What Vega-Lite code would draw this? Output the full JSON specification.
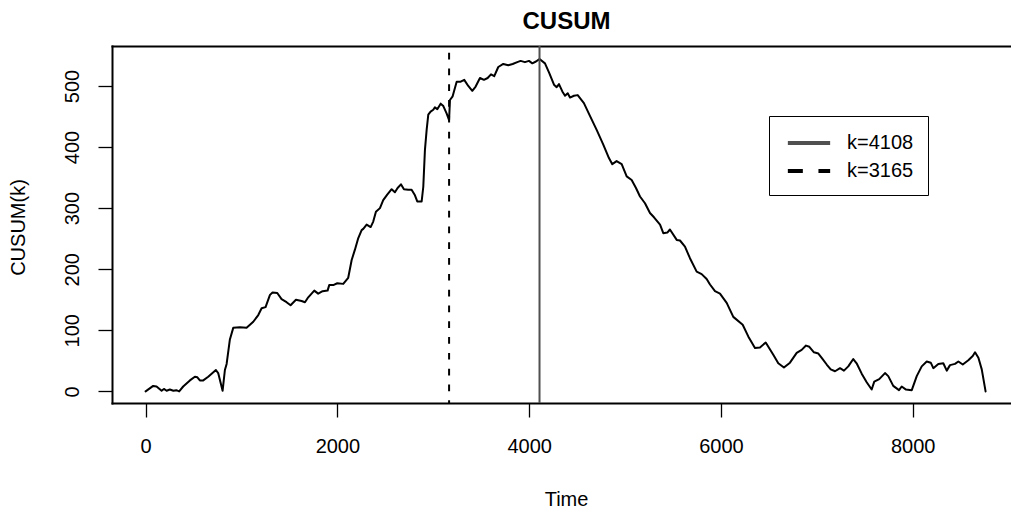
{
  "$schema": "https://vega.github.io/schema/vega-lite/v6.json",
  "width": 899,
  "height": 357,
  "autosize": {"type": "none"},
  "padding": {"left": 112, "top": 46, "right": 0, "bottom": 106},
  "background": "white",
  "title": {"text": "CUSUM", "fontSize": 24, "fontWeight": "bold", "font": "Liberation Sans", "color": "black", "anchor": "middle", "baseline": "alphabetic", "offset": -8, "dx": 5},
  "resolve": {"axis": {"x": "independent"}},
  "layer": [
    {
      "data": {"values": [
        {"t":0,"v":0},{"t":79,"v":9},{"t":114,"v":8},{"t":167,"v":1},{"t":191,"v":4},{"t":219,"v":1},{"t":253,"v":3},{"t":290,"v":1},{"t":320,"v":2},{"t":350,"v":0},
        {"t":392,"v":8},{"t":462,"v":18},{"t":514,"v":24},{"t":540,"v":23},{"t":566,"v":18},{"t":601,"v":18},{"t":653,"v":24},{"t":733,"v":35},{"t":757,"v":30},{"t":803,"v":1},
        {"t":827,"v":35},{"t":845,"v":45},{"t":879,"v":85},{"t":914,"v":104},{"t":984,"v":105},{"t":1053,"v":104},{"t":1123,"v":114},{"t":1175,"v":125},{"t":1210,"v":136},{"t":1251,"v":138},
        {"t":1297,"v":158},{"t":1324,"v":162},{"t":1373,"v":161},{"t":1418,"v":151},{"t":1470,"v":146},{"t":1512,"v":141},{"t":1568,"v":150},{"t":1627,"v":148},{"t":1662,"v":146},{"t":1696,"v":154},
        {"t":1759,"v":165},{"t":1800,"v":160},{"t":1846,"v":164},{"t":1898,"v":165},{"t":1915,"v":174},{"t":1957,"v":174},{"t":1999,"v":177},{"t":2061,"v":176},{"t":2113,"v":186},{"t":2149,"v":215},
        {"t":2183,"v":232},{"t":2218,"v":251},{"t":2253,"v":264},{"t":2270,"v":266},{"t":2305,"v":273},{"t":2347,"v":269},{"t":2374,"v":278},{"t":2402,"v":294},{"t":2444,"v":300},{"t":2478,"v":313},
        {"t":2520,"v":322},{"t":2566,"v":331},{"t":2600,"v":326},{"t":2628,"v":333},{"t":2663,"v":339},{"t":2694,"v":331},{"t":2739,"v":330},{"t":2774,"v":330},{"t":2809,"v":321},{"t":2833,"v":311},
        {"t":2879,"v":311},{"t":2896,"v":335},{"t":2913,"v":395},{"t":2931,"v":428},{"t":2948,"v":453},{"t":2972,"v":458},{"t":3000,"v":461},{"t":3017,"v":465},{"t":3042,"v":462},{"t":3077,"v":471},
        {"t":3105,"v":467},{"t":3139,"v":455},{"t":3165,"v":444},{"t":3174,"v":477},{"t":3202,"v":483},{"t":3244,"v":507},{"t":3286,"v":507},{"t":3323,"v":510},{"t":3365,"v":500},{"t":3407,"v":492},
        {"t":3442,"v":499},{"t":3487,"v":513},{"t":3529,"v":510},{"t":3567,"v":513},{"t":3602,"v":519},{"t":3636,"v":516},{"t":3678,"v":531},{"t":3730,"v":536},{"t":3782,"v":534},{"t":3828,"v":536},
        {"t":3876,"v":539},{"t":3911,"v":541},{"t":3956,"v":539},{"t":3998,"v":541},{"t":4033,"v":537},{"t":4071,"v":540},{"t":4108,"v":544},{"t":4165,"v":537},{"t":4210,"v":521},{"t":4259,"v":502},
        {"t":4287,"v":498},{"t":4311,"v":503},{"t":4346,"v":491},{"t":4374,"v":484},{"t":4402,"v":488},{"t":4426,"v":481},{"t":4467,"v":484},{"t":4506,"v":485},{"t":4571,"v":472},{"t":4634,"v":451},
        {"t":4704,"v":428},{"t":4773,"v":404},{"t":4832,"v":382},{"t":4867,"v":372},{"t":4912,"v":377},{"t":4965,"v":372},{"t":5017,"v":352},{"t":5069,"v":346},{"t":5114,"v":333},{"t":5156,"v":319},
        {"t":5208,"v":308},{"t":5260,"v":292},{"t":5302,"v":285},{"t":5365,"v":273},{"t":5399,"v":259},{"t":5441,"v":260},{"t":5468,"v":265},{"t":5539,"v":248},{"t":5573,"v":247},{"t":5625,"v":237},
        {"t":5677,"v":218},{"t":5747,"v":196},{"t":5799,"v":192},{"t":5851,"v":184},{"t":5886,"v":175},{"t":5938,"v":164},{"t":5990,"v":160},{"t":6060,"v":145},{"t":6129,"v":122},{"t":6227,"v":109},
        {"t":6285,"v":90},{"t":6355,"v":71},{"t":6407,"v":72},{"t":6467,"v":80},{"t":6546,"v":60},{"t":6598,"v":46},{"t":6657,"v":39},{"t":6720,"v":47},{"t":6790,"v":63},{"t":6842,"v":68},
        {"t":6887,"v":75},{"t":6922,"v":73},{"t":6970,"v":64},{"t":7016,"v":62},{"t":7051,"v":55},{"t":7103,"v":44},{"t":7145,"v":36},{"t":7190,"v":33},{"t":7242,"v":38},{"t":7283,"v":34},
        {"t":7328,"v":41},{"t":7380,"v":53},{"t":7415,"v":46},{"t":7468,"v":29},{"t":7520,"v":15},{"t":7572,"v":3},{"t":7599,"v":16},{"t":7651,"v":20},{"t":7711,"v":30},{"t":7745,"v":25},
        {"t":7797,"v":9},{"t":7857,"v":2},{"t":7885,"v":8},{"t":7930,"v":3},{"t":7990,"v":2},{"t":8042,"v":25},{"t":8094,"v":41},{"t":8146,"v":49},{"t":8188,"v":47},{"t":8215,"v":38},
        {"t":8267,"v":45},{"t":8319,"v":46},{"t":8355,"v":34},{"t":8389,"v":43},{"t":8441,"v":45},{"t":8476,"v":49},{"t":8522,"v":44},{"t":8580,"v":51},{"t":8626,"v":58},{"t":8650,"v":64},
        {"t":8685,"v":55},{"t":8720,"v":36},{"t":8760,"v":0}
      ]},
      "mark": {"type": "line", "color": "black", "strokeWidth": 2, "strokeJoin": "round", "strokeCap": "round"},
      "encoding": {
        "x": {"field": "t", "type": "quantitative",
              "scale": {"domain": [-350.4, 9025], "nice": false, "zero": false},
              "axis": {"orient": "bottom", "values": [0, 2000, 4000, 6000, 8000], "format": "d", "title": "Time",
                       "labelBaseline": "alphabetic", "labelPadding": 35, "titleBaseline": "alphabetic", "titleY": 102, "titleX": 454, "labelOverlap": false, "labelFlush": false}},
        "y": {"field": "v", "type": "quantitative",
              "scale": {"domain": [-19, 565.4], "nice": false, "zero": false},
              "axis": {"values": [0, 100, 200, 300, 400, 500], "format": "d", "title": "CUSUM(k)",
                       "labelAngle": -90, "labelAlign": "center", "labelBaseline": "alphabetic", "labelPadding": 20,
                       "titleAngle": -90, "titleAlign": "center", "titleBaseline": "alphabetic", "titleX": -88, "titleY": 181, "labelOverlap": false, "labelFlush": false}}
      }
    },
    {
      "data": {"values": [{"k": 4108, "label": "k=4108"}]},
      "mark": {"type": "rule", "strokeWidth": 2, "color": "#505050"},
      "encoding": {
        "x": {"field": "k", "type": "quantitative",
              "axis": {"orient": "top", "labels": false, "ticks": false, "title": null, "domain": true}}
      }
    },
    {
      "data": {"values": [{"k": 3165, "label": "k=3165"}]},
      "mark": {"type": "rule", "strokeWidth": 2, "color": "black", "strokeDash": [6.7, 9.1], "strokeDashOffset": 9.1},
      "encoding": {
        "x": {"field": "k", "type": "quantitative", "axis": null}
      }
    },
    {
      "data": {"values": [
        {"k": 4108, "label": "k=4108"},
        {"k": 3165, "label": "k=3165"}
      ]},
      "mark": {"type": "rule", "opacity": 0},
      "encoding": {
        "x": {"field": "k", "type": "quantitative", "axis": null},
        "color": {"field": "label", "type": "nominal",
                  "scale": {"domain": ["k=4108", "k=3165"], "range": ["#505050", "black"]},
                  "legend": {"title": null, "orient": "none", "legendX": 657, "legendY": 70, "padding": 14, "rowPadding": 5,
                             "strokeColor": "black", "fillColor": "white", "symbolOpacity": 1,
                             "symbolType": "M-1.923,0H1.923", "symbolSize": 484, "symbolStrokeWidth": 4, "symbolOffset": 13,
                             "labelOffset": 25, "labelFontSize": 20, "labelFont": "Liberation Sans", "labelColor": "black", "labelLimit": 0}},
        "strokeDash": {"field": "label", "type": "nominal",
                       "scale": {"domain": ["k=4108", "k=3165"], "range": [[1, 0], [15, 15.6]]},
                       "legend": {"title": null, "orient": "none", "legendX": 657, "legendY": 70, "padding": 14, "rowPadding": 5,
                             "strokeColor": "black", "fillColor": "white", "symbolOpacity": 1,
                             "symbolType": "M-1.923,0H1.923", "symbolSize": 484, "symbolStrokeWidth": 4, "symbolOffset": 13,
                             "labelOffset": 25, "labelFontSize": 20, "labelFont": "Liberation Sans", "labelColor": "black", "labelLimit": 0}}
      }
    }
  ],
  "config": {
    "font": "Liberation Sans",
    "view": {"stroke": null},
    "axis": {"grid": false, "domainColor": "black", "domainWidth": 2, "domainCap": "square", "tickColor": "black", "tickWidth": 1.3, "tickSize": 14,
             "labelFontSize": 20, "labelColor": "black", "labelFont": "Liberation Sans",
             "titleFontSize": 20, "titleFont": "Liberation Sans", "titleFontWeight": "normal", "titleColor": "black"}
  }
}
